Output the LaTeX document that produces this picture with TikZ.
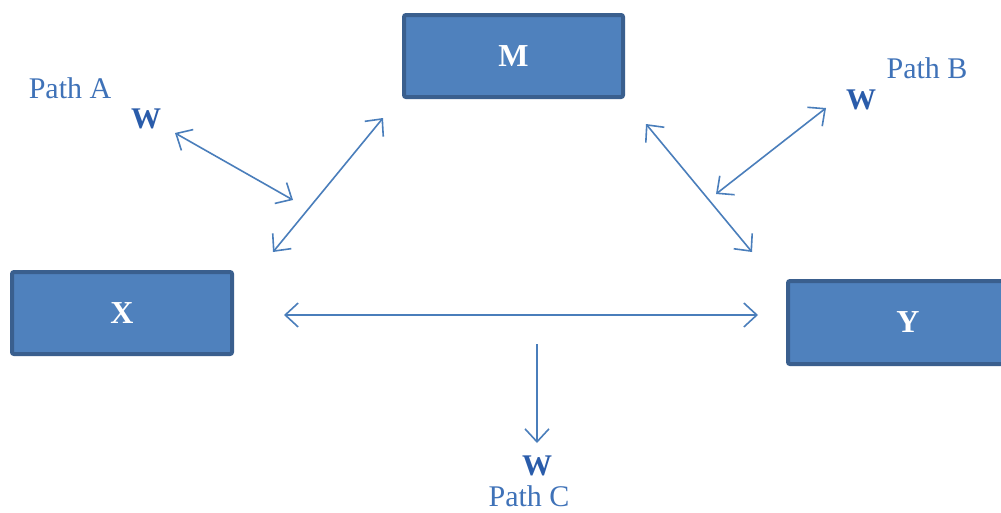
\documentclass[tikz,border=0pt]{standalone}
\usepackage{fontspec}
\setmainfont{Liberation Serif}
\usetikzlibrary{arrows.meta}
\definecolor{boxfill}{HTML}{4F81BD}
\definecolor{boxline}{HTML}{3A5F8E}
\definecolor{arrowc}{HTML}{4A7EBB}
\definecolor{labelc}{HTML}{3F72B8}
\definecolor{wc}{HTML}{2A5CAA}
\tikzset{
  varbox/.style={draw=boxline, line width=4pt, fill=boxfill, rounded corners=2pt,
    inner sep=0pt, text=white, font=\fontsize{32}{36}\selectfont\bfseries},
  pathlabel/.style={text=labelc, inner sep=0pt, font=\fontsize{30}{34}\selectfont},
  wlabel/.style={text=wc, inner sep=0pt, font=\fontsize{30}{34}\selectfont\bfseries},
  link/.style={draw=arrowc, line width=1.6pt,
    arrows={Straight Barb[length=13pt,width=24pt,line width=1.6pt]-Straight Barb[length=13pt,width=24pt,line width=1.6pt]}},
  onelink/.style={draw=arrowc, line width=1.6pt,
    arrows={-Straight Barb[length=13pt,width=24pt,line width=1.6pt]}}
}
\begin{document}
\begin{tikzpicture}[x=1pt,y=-1pt]
\clip (0,0) rectangle (1001,512);
\fill[white] (0,0) rectangle (1001,512);
% boxes
\node[varbox, minimum width=219pt, minimum height=82pt] (M) at (513.5,56) {M};
\node[varbox, minimum width=220pt, minimum height=82pt] (X) at (122,313) {X};
\node[varbox, minimum width=240pt, minimum height=83pt] (Y) at (908,322.5) {Y};
% labels
\node[pathlabel] (pA) at (70,88) {Path A};
\node[wlabel] (wA) at (146,119) {W};
\node[pathlabel] (pB) at (927,68) {Path B};
\node[wlabel] (wB) at (861,100) {W};
\node[wlabel] (wC) at (537,466) {W};
\node[pathlabel] (pC) at (529,496) {Path C};
% arrow end points
\coordinate (xm1) at (273,252);
\coordinate (xm2) at (383,118);
\coordinate (a1) at (175,133);
\coordinate (a2) at (293,200);
\coordinate (my1) at (646,124);
\coordinate (my2) at (752,252);
\coordinate (b1) at (826,108);
\coordinate (b2) at (716,194);
\coordinate (xy1) at (284,315);
\coordinate (xy2) at (758,315);
\coordinate (c1) at (537,344);
\coordinate (c2) at (537,443);
% connectors
\draw[link] (xm1) -- (xm2);
\draw[link] (a1) -- (a2);
\draw[link] (my1) -- (my2);
\draw[link] (b1) -- (b2);
\draw[link] (xy1) -- (xy2);
\draw[onelink] (c1) -- (c2);
\end{tikzpicture}
\end{document}
